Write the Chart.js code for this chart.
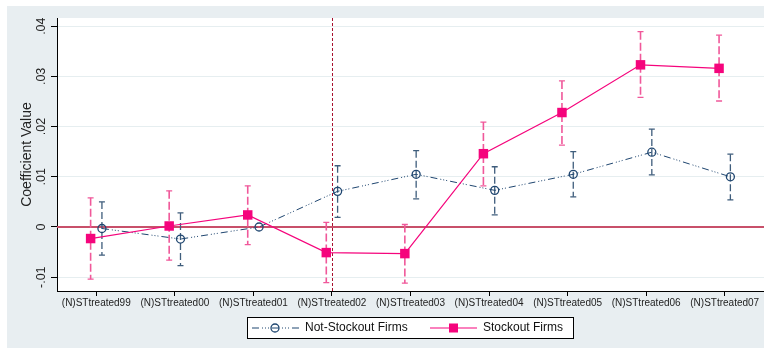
<!DOCTYPE html>
<html>
<head>
<meta charset="utf-8">
<script src="https://cdn.jsdelivr.net/npm/chart.js@4.4.1/dist/chart.umd.min.js"></script>
<style>
  html, body { margin: 0; padding: 0; background: #ffffff; }
  #wrap { width: 764px; height: 352px; }
</style>
</head>
<body>
<div id="wrap"><canvas id="c" width="764" height="352"></canvas></div>
<script>
// Event-study coefficients by treatment year, with confidence intervals
const categories = ['(N)STtreated99', '(N)STtreated00', '(N)STtreated01', '(N)STtreated02',
  '(N)STtreated03', '(N)STtreated04', '(N)STtreated05', '(N)STtreated06', '(N)STtreated07'];

const notStockout   = [-0.0003, -0.0024, 0.0000, 0.0071, 0.0105, 0.0073, 0.0105, 0.0149, 0.0100];
const notStockoutLo = [-0.0056, -0.0077, 0.0000, 0.0019, 0.0056, 0.0024, 0.0060, 0.0104, 0.0054];
const notStockoutHi = [ 0.0050,  0.0028, 0.0000, 0.0122, 0.0152, 0.0120, 0.0150, 0.0195, 0.0145];

const stockout   = [-0.0023, 0.0002, 0.0024, -0.0051, -0.0053, 0.0146, 0.0228, 0.0323, 0.0316];
const stockoutLo = [-0.0104, -0.0066, -0.0035, -0.0111, -0.0112, 0.0082, 0.0163, 0.0258, 0.0251];
const stockoutHi = [ 0.0058,  0.0072,  0.0082,  0.0009,  0.0005, 0.0209, 0.0291, 0.0389, 0.0382];

const yTicks      = [-0.01, 0, 0.01, 0.02, 0.03, 0.04];
const yTickLabels = ['-.01', '0', '.01', '.02', '.03', '.04'];

const seriesNames = ['Not-Stockout Firms', 'Stockout Firms'];
const eventIndex = 3;        // treatment year marked by the dotted line
const dodge = 0.072;         // horizontal shift of each series around its category

const NAVY = '#1f4670';
const NAVY_BAR = '#3f5d7c';
const PINK = '#f5047c';
const PINK_BAR = '#f0589a';
const FONT = '"Liberation Sans", Arial, sans-serif';

const pts = (vals, off) => vals.map((v, i) => ({ x: i + off, y: v }));

const errorSets = [
  { lo: notStockoutLo, hi: notStockoutHi, off: dodge, color: NAVY_BAR, dash: [7, 3], width: 1.3 },
  { lo: stockoutLo, hi: stockoutHi, off: -dodge, color: PINK_BAR, dash: [8, 3], width: 1.6 }
];

const framePlugin = {
  id: 'frame',
  beforeDraw(chart) {
    const { ctx, chartArea: a } = chart;
    ctx.save();
    ctx.fillStyle = '#ffffff';
    ctx.fillRect(0, 0, chart.width, chart.height);
    ctx.fillStyle = '#e8eef1';
    ctx.fillRect(7, 6, chart.width - 7, 342);
    ctx.fillStyle = '#ffffff';
    ctx.fillRect(a.left, a.top, a.right - a.left, a.bottom - a.top);
    ctx.restore();
  }
};

const refLinesPlugin = {
  id: 'refLines',
  beforeDatasetsDraw(chart) {
    const { ctx, chartArea: a, scales: { x, y } } = chart;
    ctx.save();
    const y0 = y.getPixelForValue(0);
    ctx.strokeStyle = '#c8506a';
    ctx.lineWidth = 2;
    ctx.beginPath();
    ctx.moveTo(a.left, y0);
    ctx.lineTo(a.right, y0);
    ctx.stroke();

    const xv = Math.round(x.getPixelForValue(eventIndex)) + 0.5;
    ctx.strokeStyle = '#a8102e';
    ctx.lineWidth = 1;
    ctx.setLineDash([3, 2]);
    ctx.beginPath();
    ctx.moveTo(xv, a.top);
    ctx.lineTo(xv, a.bottom);
    ctx.stroke();
    ctx.restore();
  }
};

const errorBarPlugin = {
  id: 'errorBars',
  beforeDatasetsDraw(chart) {
    const { ctx, scales: { x, y } } = chart;
    ctx.save();
    errorSets.forEach(s => {
      s.lo.forEach((lo, i) => {
        const hi = s.hi[i];
        if (lo === hi) return;
        const px = x.getPixelForValue(i + s.off);
        const pLo = y.getPixelForValue(lo);
        const pHi = y.getPixelForValue(hi);
        ctx.strokeStyle = s.color;
        ctx.lineWidth = s.width;
        ctx.setLineDash(s.dash);
        ctx.beginPath();
        ctx.moveTo(px, pHi);
        ctx.lineTo(px, pLo);
        ctx.stroke();
        ctx.setLineDash([]);
        ctx.lineWidth = 1.3;
        ctx.beginPath();
        ctx.moveTo(px - 3, pHi); ctx.lineTo(px + 3, pHi);
        ctx.moveTo(px - 3, pLo); ctx.lineTo(px + 3, pLo);
        ctx.stroke();
      });
    });
    ctx.restore();
  }
};

const annotatePlugin = {
  id: 'annotate',
  afterDraw(chart) {
    const { ctx, chartArea: a, scales: { y } } = chart;
    ctx.save();
    // rotated y tick labels
    ctx.fillStyle = '#222222';
    ctx.font = '12.5px ' + FONT;
    ctx.textAlign = 'center';
    ctx.textBaseline = 'middle';
    yTicks.forEach((v, i) => {
      const py = y.getPixelForValue(v);
      ctx.save();
      ctx.translate(42, py);
      ctx.rotate(-Math.PI / 2);
      ctx.fillText(yTickLabels[i], 0, 0);
      ctx.restore();
    });
    // y axis title
    ctx.font = '14px ' + FONT;
    ctx.save();
    ctx.translate(27.5, (a.top + a.bottom) / 2);
    ctx.rotate(-Math.PI / 2);
    ctx.fillText('Coefficient Value', 0, 0);
    ctx.restore();

    // legend box
    const bx = 247, by = 317, bw = 326, bh = 21;
    ctx.fillStyle = '#ffffff';
    ctx.fillRect(bx, by, bw, bh);
    ctx.strokeStyle = '#000000';
    ctx.lineWidth = 1;
    ctx.strokeRect(bx + 0.5, by + 0.5, bw, bh);
    const ly = by + bh / 2 + 0.5;

    // not-stockout sample: dash-dot line with hollow circle
    ctx.strokeStyle = NAVY;
    ctx.lineWidth = 1;
    ctx.setLineDash([7, 3, 1, 2, 1, 2, 1, 3]);
    ctx.beginPath();
    ctx.moveTo(252, ly); ctx.lineTo(299, ly);
    ctx.stroke();
    ctx.setLineDash([]);
    ctx.lineWidth = 1.3;
    ctx.beginPath();
    ctx.arc(275, ly, 4, 0, Math.PI * 2);
    ctx.stroke();

    // stockout sample: solid line with filled square
    ctx.strokeStyle = PINK;
    ctx.lineWidth = 1.2;
    ctx.beginPath();
    ctx.moveTo(430, ly); ctx.lineTo(477, ly);
    ctx.stroke();
    ctx.fillStyle = PINK;
    ctx.fillRect(449, ly - 4.5, 9, 9);

    ctx.fillStyle = '#111111';
    ctx.font = '12px ' + FONT;
    ctx.textAlign = 'left';
    ctx.textBaseline = 'middle';
    ctx.fillText(seriesNames[0], 305, ly);
    ctx.fillText(seriesNames[1], 483, ly);
    ctx.restore();
  }
};

new Chart(document.getElementById('c'), {
  type: 'line',
  data: {
    datasets: [
      {
        label: seriesNames[1],
        data: pts(stockout, -dodge),
        borderColor: PINK,
        backgroundColor: PINK,
        borderWidth: 1.2,
        pointStyle: 'rect',
        pointRadius: 6.7,
        pointBorderWidth: 0,
        tension: 0
      },
      {
        label: seriesNames[0],
        data: pts(notStockout, dodge),
        borderColor: NAVY,
        backgroundColor: 'rgba(0,0,0,0)',
        borderWidth: 1,
        borderDash: [7, 3, 1, 2, 1, 2, 1, 3],
        pointStyle: 'circle',
        pointRadius: 4,
        pointBorderWidth: 1.3,
        pointBorderColor: NAVY,
        pointBackgroundColor: 'rgba(0,0,0,0)',
        tension: 0
      }
    ]
  },
  options: {
    responsive: false,
    animation: false,
    events: [],
    layout: { autoPadding: false, padding: { top: 18, left: 0, right: 0, bottom: 0 } },
    plugins: { legend: { display: false }, tooltip: { enabled: false } },
    scales: {
      x: {
        type: 'linear',
        min: -0.5,
        max: 8.5,
        afterBuildTicks: s => { s.ticks = categories.map((c, i) => ({ value: i })); },
        afterFit: s => { s.height = 61; s.paddingLeft = 0; s.paddingRight = 0; },
        ticks: {
          autoSkip: false,
          maxRotation: 0,
          minRotation: 0,
          padding: 1,
          color: '#222222',
          font: { family: FONT, size: 10 },
          callback: v => categories[v]
        },
        grid: { drawOnChartArea: false, drawTicks: true, tickLength: 5, tickColor: '#000000', color: '#000000' },
        border: { display: true, color: '#000000', width: 1 }
      },
      y: {
        type: 'linear',
        min: -0.01275,
        max: 0.04163,
        afterBuildTicks: s => { s.ticks = yTicks.map(v => ({ value: v })); },
        afterFit: s => { s.width = 57; s.paddingTop = 0; s.paddingBottom = 0; },
        ticks: { display: false },
        grid: { color: '#e6eef0', lineWidth: 1, drawTicks: true, tickLength: 6, tickColor: '#000000' },
        border: { display: true, color: '#000000', width: 1 }
      }
    }
  },
  plugins: [framePlugin, refLinesPlugin, errorBarPlugin, annotatePlugin]
});
</script>
</body>
</html>
